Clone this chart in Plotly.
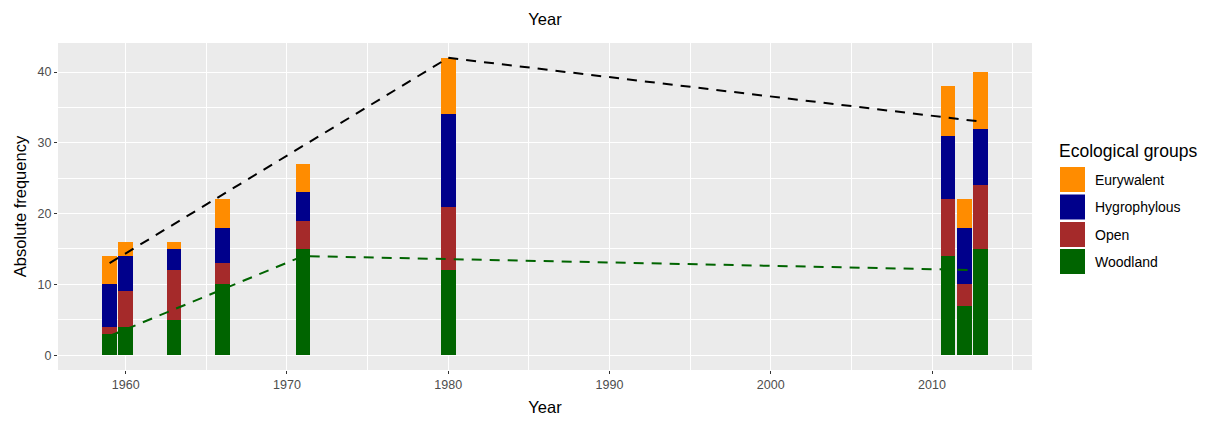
import plotly.graph_objects as go

years = [1959, 1960, 1963, 1966, 1971, 1980, 2011, 2012, 2013]
woodland = [3, 4, 5, 10, 15, 12, 14, 7, 15]
open_ = [1, 5, 7, 3, 4, 9, 8, 3, 9]
hygrophylous = [6, 5, 3, 5, 4, 13, 9, 8, 8]
eurywalent = [4, 2, 1, 4, 4, 8, 7, 4, 8]

groups = ["Eurywalent", "Hygrophylous", "Open", "Woodland"]
colors = {"Eurywalent": "#FF8C00", "Hygrophylous": "#00008B",
          "Open": "#A52A2A", "Woodland": "#006400"}

black_years = [1959, 1980, 2013]
black_vals = [13, 42, 33]
green_years = [1959, 1971, 2013]
green_vals = [2.7, 14, 12]

FONT = "Liberation Sans, Arial, sans-serif"

fig = go.Figure()
for name, vals in [("Woodland", woodland), ("Open", open_),
                   ("Hygrophylous", hygrophylous), ("Eurywalent", eurywalent)]:
    fig.add_trace(go.Bar(x=years, y=vals, name=name, width=0.9,
                         marker=dict(color=colors[name], line=dict(width=0)),
                         showlegend=False))

fig.add_trace(go.Scatter(x=black_years, y=black_vals, mode="lines",
                         line=dict(color="black", width=2, dash="10px,8px"),
                         showlegend=False))
fig.add_trace(go.Scatter(x=green_years, y=green_vals, mode="lines",
                         line=dict(color="#006400", width=2, dash="10px,8px"),
                         showlegend=False))

# Plot area geometry (pixels) for manual legend
L, R, T, B = 58, 1032, 43, 370
W, H = R - L, B - T

def px(x):
    return (x - L) / W

def py(y):
    return (B - y) / H

fig.add_annotation(x=px(1057), y=py(151), xref="paper", yref="paper",
                   text="Ecological groups", showarrow=False,
                   xanchor="left", yanchor="middle",
                   font=dict(family=FONT, size=17.5, color="black"))
key_tops = [167, 194.5, 222, 249]
for g, top in zip(groups, key_tops):
    fig.add_shape(type="rect", xref="paper", yref="paper",
                  x0=px(1060), x1=px(1085), y0=py(top), y1=py(top + 25),
                  fillcolor=colors[g], line=dict(width=0))
    fig.add_annotation(x=px(1093), y=py(top + 12.5), xref="paper", yref="paper",
                       text=g, showarrow=False, xanchor="left", yanchor="middle",
                       font=dict(family=FONT, size=14, color="black"))

fig.update_layout(
    width=1213, height=421,
    margin=dict(l=L, r=1213 - R, t=T, b=421 - B, autoexpand=False),
    barmode="stack",
    bargap=0,
    plot_bgcolor="#EBEBEB",
    paper_bgcolor="white",
    font=dict(family=FONT, color="black"),
    title=dict(text="Year", x=0.5, xref="paper", xanchor="center",
               y=1 - 19 / 421, yref="container", yanchor="middle",
               font=dict(family=FONT, size=16.5, color="black"), automargin=False),
    xaxis=dict(range=[1955.8, 2016.2], dtick=10, tick0=1960, automargin=False,
               showgrid=True, gridcolor="white", gridwidth=1.4,
               minor=dict(dtick=5, tick0=1955, showgrid=True,
                          gridcolor="white", gridwidth=0.6),
               zeroline=False, showline=False,
               ticks="outside", ticklen=3, tickcolor="#333333",
               tickfont=dict(family=FONT, size=12.5, color="#4D4D4D"),
               title=dict(text="Year", standoff=10,
                          font=dict(family=FONT, size=16.5, color="black"))),
    yaxis=dict(range=[-2.1, 44.1], dtick=10, tick0=0, automargin=False,
               showgrid=True, gridcolor="white", gridwidth=1.4,
               minor=dict(dtick=5, tick0=0, showgrid=True,
                          gridcolor="white", gridwidth=0.6),
               zeroline=False, showline=False,
               ticks="outside", ticklen=3, tickcolor="#333333",
               tickfont=dict(family=FONT, size=12.5, color="#4D4D4D"),
               title=dict(text="Absolute frequency", standoff=6,
                          font=dict(family=FONT, size=16.5, color="black"))),
)

fig.write_html("out.html", config={"displayModeBar": False},
               post_script="document.body.style.margin='0';document.body.style.padding='0';")
